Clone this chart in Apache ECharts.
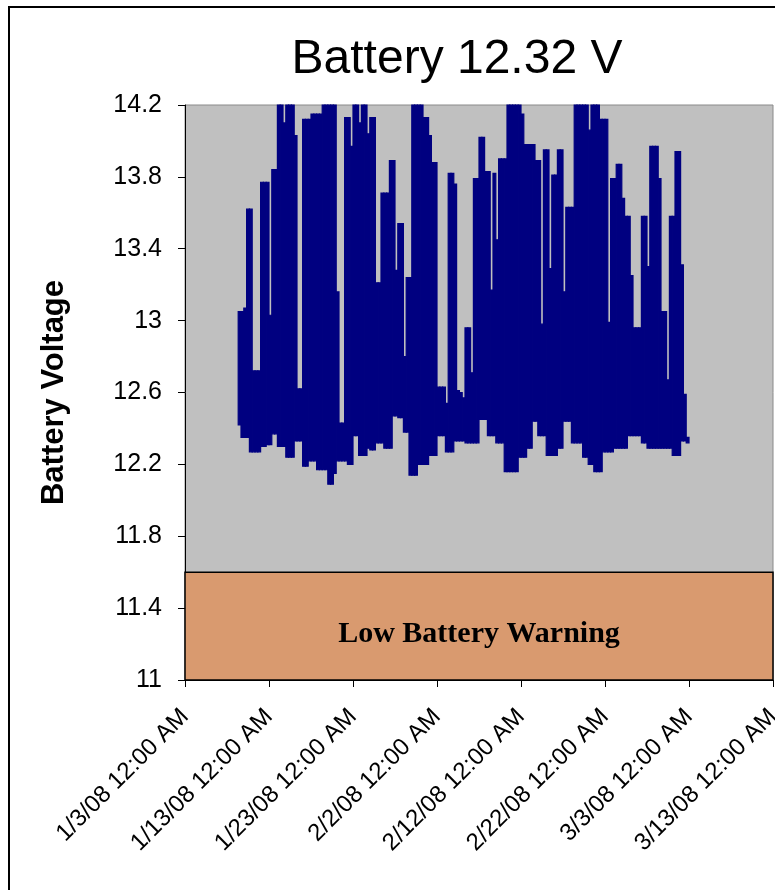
<!DOCTYPE html>
<html>
<head>
<meta charset="utf-8">
<title>Battery Voltage</title>
<script src="https://cdn.jsdelivr.net/npm/echarts@6/dist/echarts.min.js"></script>
<style>
  html, body { margin: 0; padding: 0; background: #ffffff; }
  #chart { width: 775px; height: 890px; }
</style>
</head>
<body>
<div id="chart"></div>
<script>
// Latest battery reading shown in the heading.
const latestVolts = 12.32;

// Voltage range per 8-hour interval, first interval starting 1/9/08 08:00.
const firstIntervalStart = Date.UTC(2008, 0, 9, 8);
const intervalHours = 8;

// Highest reading in each interval (values above 14.2 run off the top of the scale).
const highV = [
  13.05, 13.05, 13.07, 13.62, 13.62, 12.72, 12.72, 12.72, 13.77, 13.77,
  13.77, 13.03, 13.84, 13.84, 14.3, 14.3, 14.1, 14.3, 14.3, 14.3,
  14.03, 12.62, 12.62, 14.12, 14.12, 14.12, 14.15, 14.15, 14.15, 14.15,
  14.3, 14.3, 14.3, 14.3, 14.3, 13.16, 12.43, 12.43, 14.13, 14.13,
  13.97, 14.3, 14.3, 14.1, 14.3, 14.3, 14.04, 14.13, 14.13, 13.21,
  13.21, 13.71, 13.71, 13.71, 13.89, 13.89, 13.28, 13.54, 13.54, 12.8,
  13.24, 13.24, 14.3, 14.3, 14.3, 14.3, 14.13, 14.13, 14.03, 13.88,
  13.88, 12.63, 12.63, 12.63, 12.54, 13.82, 13.82, 13.76, 12.61, 12.6,
  12.57, 12.96, 12.96, 12.71, 13.79, 13.79, 14.02, 14.02, 13.83, 13.83,
  13.17, 13.82, 13.45, 13.9, 13.9, 13.9, 14.3, 14.3, 14.3, 14.3,
  14.3, 14.15, 13.98, 13.98, 13.98, 13.98, 13.89, 13.89, 12.98, 13.95,
  13.95, 13.29, 13.81, 13.81, 13.95, 13.95, 13.16, 13.63, 13.63, 13.63,
  14.3, 14.3, 14.3, 14.3, 14.3, 14.06, 14.3, 14.3, 14.3, 14.12,
  14.12, 14.12, 12.99, 13.79, 13.79, 13.87, 13.87, 13.68, 13.58, 13.58,
  13.25, 12.96, 12.96, 12.96, 13.58, 13.58, 13.3, 13.97, 13.97, 13.97,
  13.79, 13.05, 13.05, 12.67, 13.58, 13.58, 13.94, 13.94, 13.31, 12.59,
  12.35
];

// Lowest reading in each interval.
const lowV = [
  12.42, 12.35, 12.35, 12.35, 12.27, 12.27, 12.27, 12.27, 12.3, 12.3,
  12.31, 12.31, 12.37, 12.37, 12.3, 12.3, 12.3, 12.24, 12.24, 12.24,
  12.33, 12.33, 12.33, 12.19, 12.19, 12.22, 12.22, 12.22, 12.17, 12.17,
  12.17, 12.17, 12.09, 12.09, 12.15, 12.22, 12.22, 12.22, 12.22, 12.2,
  12.2, 12.36, 12.36, 12.25, 12.25, 12.25, 12.29, 12.28, 12.28, 12.32,
  12.32, 12.32, 12.29, 12.29, 12.29, 12.47, 12.47, 12.46, 12.46, 12.38,
  12.38, 12.14, 12.14, 12.14, 12.2, 12.2, 12.2, 12.2, 12.25, 12.25,
  12.25, 12.36, 12.36, 12.36, 12.27, 12.27, 12.27, 12.33, 12.33, 12.33,
  12.33, 12.32, 12.32, 12.32, 12.32, 12.32, 12.45, 12.45, 12.45, 12.36,
  12.36, 12.36, 12.32, 12.32, 12.32, 12.16, 12.16, 12.16, 12.16, 12.16,
  12.24, 12.24, 12.24, 12.29, 12.29, 12.44, 12.44, 12.36, 12.36, 12.36,
  12.25, 12.25, 12.25, 12.25, 12.29, 12.29, 12.44, 12.44, 12.44, 12.32,
  12.32, 12.32, 12.32, 12.24, 12.24, 12.2, 12.2, 12.16, 12.16, 12.16,
  12.27, 12.27, 12.27, 12.27, 12.29, 12.29, 12.29, 12.29, 12.29, 12.36,
  12.36, 12.36, 12.36, 12.36, 12.32, 12.32, 12.29, 12.29, 12.29, 12.29,
  12.29, 12.29, 12.29, 12.29, 12.29, 12.25, 12.25, 12.25, 12.33, 12.33,
  latestVolts
];

// Axis scales and tick labels.
const yMin = 11, yMax = 14.2, yStep = 0.4;
const yTickLabels = ['11', '11.4', '11.8', '12.2', '12.6', '13', '13.4', '13.8', '14.2'];
const xMin = Date.UTC(2008, 0, 3), xMax = Date.UTC(2008, 2, 13);
const xStepDays = 10;
const xTickLabels = [
  '1/3/08 12:00 AM', '1/13/08 12:00 AM', '1/23/08 12:00 AM', '2/2/08 12:00 AM',
  '2/12/08 12:00 AM', '2/22/08 12:00 AM', '3/3/08 12:00 AM', '3/13/08 12:00 AM'
];

// Low battery zone.
const warnLow = 11, warnHigh = 11.6;
const warnText = 'Low Battery Warning';

const HOUR = 3600 * 1000;
const DAY = 24 * HOUR;
const rows = lowV.map((lo, i) => [firstIntervalStart + i * intervalHours * HOUR, lo, highV[i]]);

const navy = '#000080';
const sans = 'Liberation Sans, Arial, sans-serif';

const chart = echarts.init(document.getElementById('chart'), null, { renderer: 'canvas' });

chart.setOption({
  backgroundColor: '#ffffff',
  animation: false,
  title: {
    text: 'Battery ' + latestVolts.toFixed(2) + ' V',
    left: 457,
    top: 36,
    textAlign: 'center',
    padding: 0,
    textStyle: { fontFamily: sans, fontSize: 48, fontWeight: 'normal', color: '#000' }
  },
  grid: {
    left: 185, top: 105, right: 2, bottom: 210,
    show: true,
    backgroundColor: '#C0C0C0',
    borderColor: '#8a8a8a',
    borderWidth: 1,
    outerBoundsMode: 'none'
  },
  xAxis: {
    type: 'value',
    min: xMin,
    max: xMax,
    interval: xStepDays * DAY,
    axisLine: { show: true, lineStyle: { color: '#000', width: 1 } },
    axisTick: { show: true, inside: false, length: 7, lineStyle: { color: '#000' } },
    splitLine: { show: false },
    axisLabel: {
      rotate: 45,
      margin: 33,
      fontFamily: sans,
      fontSize: 24,
      color: '#000',
      showMinLabel: true,
      showMaxLabel: true,
      hideOverlap: false,
      formatter: v => xTickLabels[Math.round((v - xMin) / (xStepDays * DAY))] || ''
    }
  },
  yAxis: {
    type: 'value',
    min: yMin,
    max: yMax,
    interval: yStep,
    name: 'Battery Voltage',
    nameLocation: 'middle',
    nameGap: 115,
    nameRotate: 90,
    nameTextStyle: { fontFamily: sans, fontSize: 31, fontWeight: 'bold', color: '#000' },
    axisLine: { show: true, lineStyle: { color: '#000', width: 1 } },
    axisTick: { show: true, inside: false, length: 7, lineStyle: { color: '#000' } },
    splitLine: { show: false },
    axisLabel: {
      margin: 23,
      fontFamily: sans,
      fontSize: 25,
      color: '#000',
      formatter: v => yTickLabels[Math.round((v - yMin) / yStep)] || ''
    }
  },
  graphic: [
    {
      type: 'rect',
      silent: true,
      shape: { x: 9, y: 7, width: 820, height: 920 },
      style: { fill: 'none', stroke: '#000', lineWidth: 2 }
    }
  ],
  series: [
    {
      name: 'Battery Voltage',
      type: 'custom',
      data: rows,
      encode: { x: 0, y: [1, 2] },
      renderItem: function (params, api) {
        const t = api.value(0);
        const lo = api.value(1);
        const hi = api.value(2);
        const topLeft = api.coord([t, hi]);
        const bottomRight = api.coord([t + intervalHours * HOUR, lo]);
        const cs = params.coordSys;
        const shape = echarts.graphic.clipRectByRect(
          { x: topLeft[0], y: topLeft[1], width: bottomRight[0] - topLeft[0], height: bottomRight[1] - topLeft[1] },
          { x: cs.x, y: cs.y, width: cs.width, height: cs.height }
        );
        if (!shape) return null;
        return {
          type: 'rect',
          shape: shape,
          style: { fill: navy, stroke: navy, lineWidth: 1.2 }
        };
      },
      markArea: {
        silent: true,
        itemStyle: { color: '#D99A6F', borderColor: '#000', borderWidth: 1.5 },
        label: {
          show: true,
          position: 'inside',
          offset: [0, 8],
          formatter: warnText,
          fontFamily: 'Liberation Serif, Times New Roman, serif',
          fontWeight: 'bold',
          fontSize: 30,
          color: '#000'
        },
        data: [[{ yAxis: warnLow }, { yAxis: warnHigh }]]
      }
    }
  ]
});
</script>
</body>
</html>
